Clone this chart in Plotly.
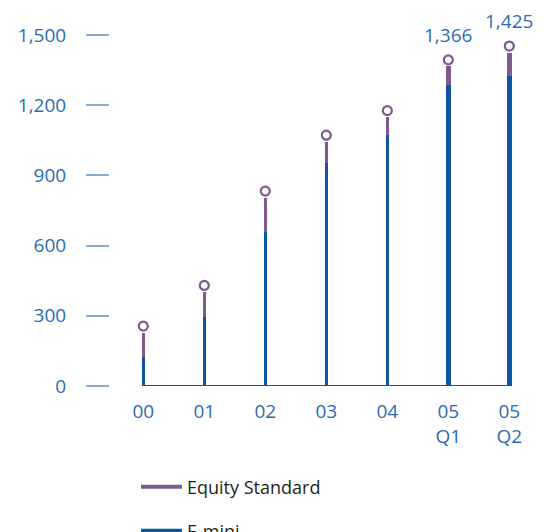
import plotly.graph_objects as go

# ---- data ----
categories = ["00", "01", "02", "03", "04", "05<br>Q1", "05<br>Q2"]
emini = [124, 296, 660, 952, 1071, 1287, 1326]
equity_standard = [104, 106, 145, 92, 78, 79, 99]
labelled_totals = ["", "", "", "", "", "1,366", "1,425"]
y_ticks = [0, 300, 600, 900, 1200, 1500]
y_tick_text = ["0", "300", "600", "900", "1,200", "1,500"]

totals = [a + b for a, b in zip(emini, equity_standard)]

# ---- style ----
BLUE = "#0b57a1"
PURPLE = "#7f5a8e"
LABEL_BLUE = "#2b6cb3"
TICK_BLUE = "#86abd4"
TEXT_DARK = "#231f20"
FONT = "Open Sans"

# page body has an 8px margin, so the figure is drawn 8px in from the window edge
OFF = 8
W, H = 548 - OFF, 532 - OFF
M_L, M_T = 110 - OFF, 35 - OFF
M_R = W - (520 - OFF)
M_B = H - (386 - OFF)
Y_MAX = 1500
px_per_unit = (H - M_T - M_B) / Y_MAX
circle_offset_units = 6.5 / px_per_unit  # circle sits on top of the stem

widths = [0.09 if "Q" in c else 0.05 for c in categories]

fig = go.Figure()

fig.add_trace(go.Bar(
    x=categories, y=emini, width=widths, marker=dict(color=BLUE, line=dict(width=0)),
    showlegend=False, hoverinfo="skip"))
fig.add_trace(go.Bar(
    x=categories, y=equity_standard, width=widths, marker=dict(color=PURPLE, line=dict(width=0)),
    showlegend=False, hoverinfo="skip"))

# baseline between first and last stems
fig.add_trace(go.Scatter(
    x=[categories[0], categories[-1]], y=[0, 0], mode="lines",
    line=dict(color=BLUE, width=2), showlegend=False, hoverinfo="skip"))

# circle heads
fig.add_trace(go.Scatter(
    x=categories, y=totals, yaxis="y2", mode="markers",
    marker=dict(symbol="circle", size=9, color="white", line=dict(color=PURPLE, width=2.2)),
    cliponaxis=False, showlegend=False, hoverinfo="skip"))

# value labels above the last two circles
for cat, tot, lab in zip(categories, totals, labelled_totals):
    if lab:
        fig.add_annotation(
            x=cat, y=tot, xref="x", yref="y2", text=lab, showarrow=False,
            xanchor="center", yanchor="middle", yshift=25,
            font=dict(family=FONT, size=19, color=LABEL_BLUE))

# legend entries (line style)
fig.add_trace(go.Scatter(
    x=[None], y=[None], mode="lines", name="Equity Standard",
    line=dict(color=PURPLE, width=4), legend="legend"))
fig.add_trace(go.Scatter(
    x=[None], y=[None], mode="lines", name="E-mini",
    line=dict(color=BLUE, width=4), legend="legend2"))

legend_common = dict(
    xref="container", yref="container", xanchor="left", yanchor="middle",
    font=dict(family=FONT, size=18, color=TEXT_DARK), bgcolor="rgba(0,0,0,0)",
    itemwidth=41)

fig.update_layout(
    width=W, height=H,
    margin=dict(l=M_L, r=M_R, t=M_T, b=M_B, pad=0, autoexpand=False),
    paper_bgcolor="white", plot_bgcolor="white",
    barmode="stack",
    font=dict(family=FONT, size=19, color=LABEL_BLUE),
    xaxis=dict(
        type="category", range=[-0.546, 6.175],
        showline=False, showgrid=False, zeroline=False, ticks="",
        tickfont=dict(family=FONT, size=19, color=LABEL_BLUE),
        ticklabelstandoff=12, automargin=False),
    yaxis=dict(
        range=[0, Y_MAX], tickvals=y_ticks, ticktext=y_tick_text,
        showline=False, showgrid=False, zeroline=False,
        ticks="outside", ticklen=23, tickwidth=1.5, tickcolor=TICK_BLUE,
        tickfont=dict(family=FONT, size=19, color=LABEL_BLUE),
        ticklabelstandoff=16, automargin=False),
    yaxis2=dict(
        range=[-circle_offset_units, Y_MAX - circle_offset_units],
        overlaying="y", visible=False),
    legend=dict(x=(136 - OFF) / W, y=1 - (487 - OFF) / H, **legend_common),
    legend2=dict(x=(136 - OFF) / W, y=1 - (531 - OFF) / H, **legend_common),
)

fig.write_html("out.html")
